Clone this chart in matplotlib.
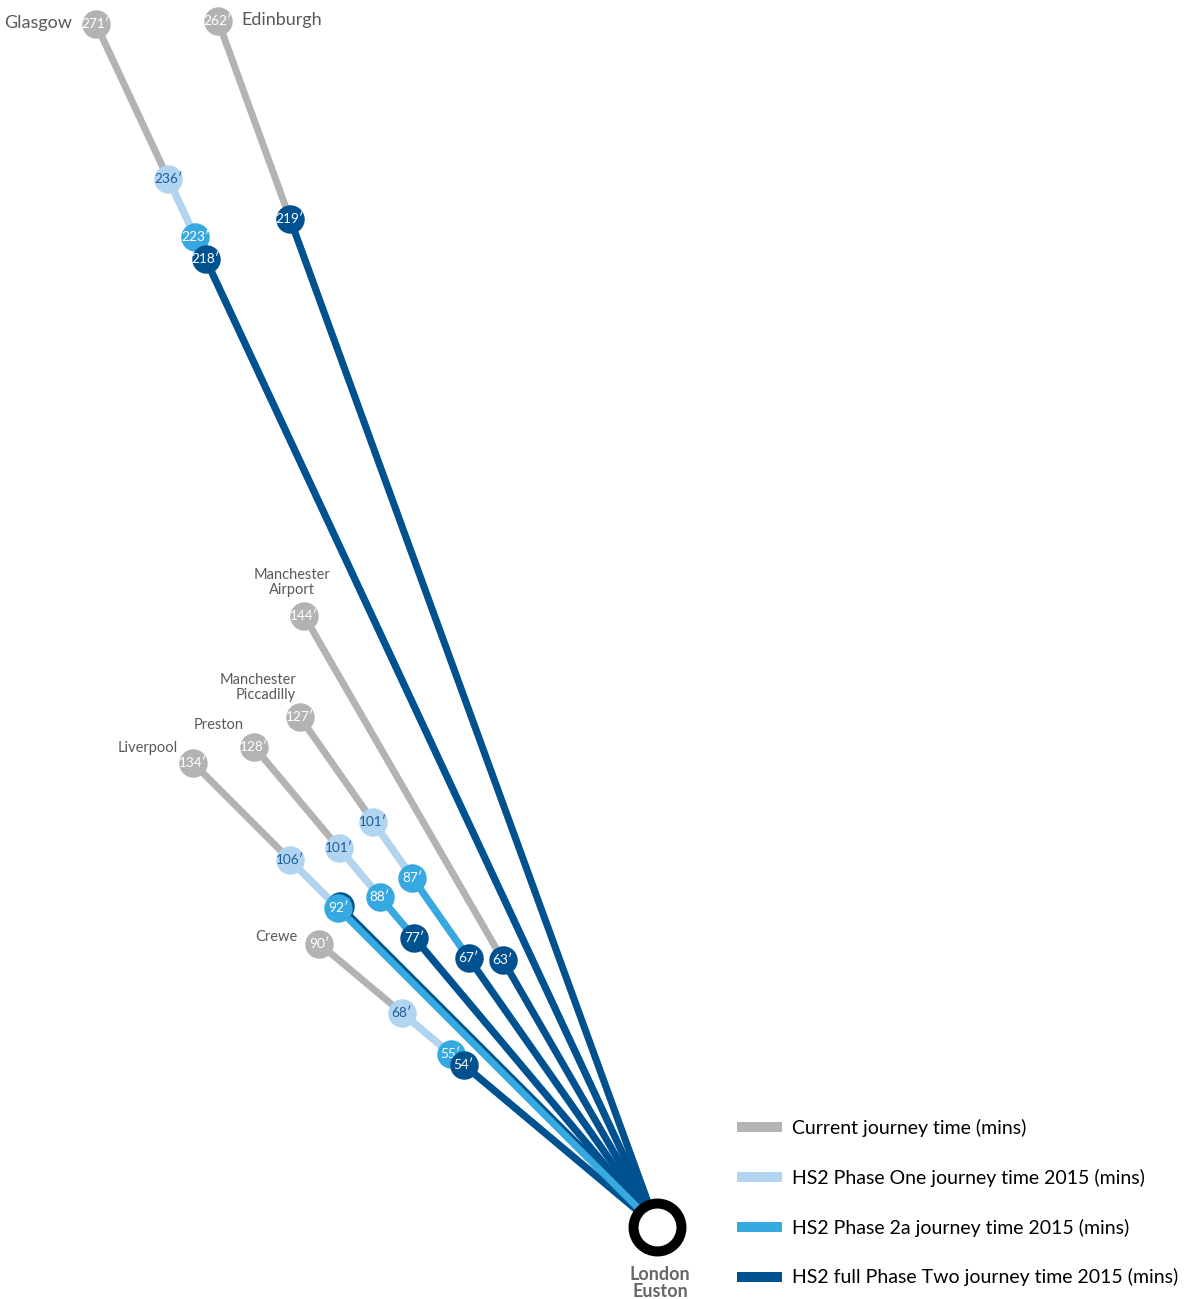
import numpy as np
import matplotlib
matplotlib.use('Agg')
import matplotlib.pyplot as plt
from matplotlib.lines import Line2D

plt.rcParams['font.family'] = ['Lato', 'DejaVu Sans']

# 数据：目的地、方位角（度）、各阶段行程时间（分钟）
destinations = ['Edinburgh', 'Glasgow', 'Manchester\nAirport', 'Manchester\nPiccadilly',
                'Preston', 'Liverpool', 'Crewe']
bearing = [110, 115, 120, 125, 130, 135, 140]
current = [262, 271, 144, 127, 128, 134, 90]
phase_one = [None, 236, None, 101, 101, 106, 68]
phase_2a = [None, 223, None, 87, 88, 92, 55]
full_two = [219, 218, 63, 67, 77, 92, 54]

series_names = ['Current journey time (mins)',
                'HS2 Phase One journey time 2015 (mins)',
                'HS2 Phase 2a journey time 2015 (mins)',
                'HS2 full Phase Two journey time 2015 (mins)']
colors = ['#b3b3b3', '#b1d4f1', '#36a9e1', '#00518f']
text_colors = ['white', '#1b5c9c', 'white', 'white']

# 标签位置（像素偏移）
label_dx = [23, -24, -12, -4, -10, -15, -22]
label_dy = [1, 1, 33, 30, 22, 15, 7]
label_ha = ['left', 'right', 'center', 'right', 'right', 'right', 'right']
label_size = [13, 13, 10.5, 10.5, 10.5, 10.5, 10.5]
# 相邻圆点过近时的沿线微调（分钟）
full_nudge = [0, 0, 0, 0, 0, 0, -2.5]

W, H = 1188, 1299
cx, cy = 657, 1227
S = 4.9  # 像素/分钟

fig = plt.figure(figsize=(W / 100, H / 100), dpi=100)
ax = fig.add_axes([0, 0, 1, 1])
ax.set_xlim(-cx / S, (W - cx) / S)
ax.set_ylim(-(H - cy) / S, cy / S)
ax.axis('off')

all_series = [current, phase_one, phase_2a, full_two]
px = 0.72  # 1 像素 = 0.72 点

for i, name in enumerate(destinations):
    th = np.deg2rad(bearing[i])
    u = np.array([np.cos(th), np.sin(th)])
    perp = np.array([np.sin(th), -np.cos(th)])  # 指向右上
    dup = phase_2a[i] is not None and phase_2a[i] == full_two[i]
    for k, vals in enumerate(all_series):
        t = vals[i]
        if t is None:
            continue
        shift = np.zeros(2)
        zl, zm = 1 + k, 10 + k
        r = t
        if k == 3:
            r = t + full_nudge[i]
        if dup and k == 3:
            shift = perp * 0.55
        if dup and k == 2:
            zl, zm = 4.5, 14.5
        p = u * r + shift
        ax.plot([shift[0], p[0]], [shift[1], p[1]], color=colors[k], lw=5,
                solid_capstyle='butt', zorder=zl)
        ax.plot(p[0], p[1], 'o', ms=20.5, color=colors[k], mew=0, zorder=zm)
        ax.text(p[0], p[1], f'{t}\u2032', color=text_colors[k], fontsize=9.8,
                ha='center', va='center', zorder=zm + 0.1)
    p0 = u * current[i]
    ax.annotate(name, (p0[0], p0[1]), xytext=(label_dx[i] * px, label_dy[i] * px),
                textcoords='offset points', ha=label_ha[i], va='center',
                multialignment=label_ha[i], fontsize=label_size[i],
                color='#595959', linespacing=1.1)

# London Euston
ax.plot(0, 0, 'o', ms=34.5, mfc='white', mec='black', mew=7.2, zorder=20)
ax.annotate('London\nEuston', (0, 0), xytext=(3 * px, -56 * px), textcoords='offset points',
            ha='center', va='center', fontsize=13, fontweight='bold',
            color='#666666', linespacing=1.05)

handles = [Line2D([], [], color=c, lw=7.2, solid_capstyle='butt') for c in colors]
ax.legend(handles, series_names, loc='upper left',
          bbox_to_anchor=(737 / W, 1 - 1119 / H), frameon=False,
          fontsize=14.0, handlelength=2.32, handletextpad=0.52,
          labelspacing=1.63, borderpad=0, borderaxespad=0)

fig.savefig('out.png', dpi=100)
